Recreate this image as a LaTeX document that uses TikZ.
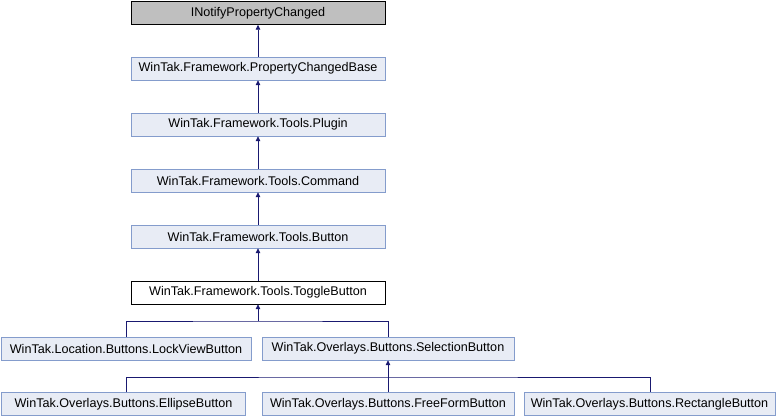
\documentclass[tikz,border=0pt]{standalone}
\usepackage{fontspec}
\setmainfont{Liberation Sans}
\usepackage{xcolor}
\usetikzlibrary{arrows.meta,positioning,calc}

\definecolor{nodefill}{HTML}{E8ECF5}
\definecolor{nodeedge}{HTML}{849CCC}
\definecolor{edgeblue}{HTML}{191970}

\begin{document}
\begin{tikzpicture}[x=1pt, y=-1pt,
  box/.style={draw=nodeedge, fill=nodefill, minimum height=23pt, inner sep=2pt, font=\fontsize{12.6}{14}\selectfont},
  wide/.style={box, minimum width=254pt},
  arr/.style={draw=edgeblue, line width=0.8pt, -{Triangle[length=5pt,width=4.5pt]}},
  lne/.style={draw=edgeblue, line width=0.8pt}
]
  \useasboundingbox (0,0) rectangle (776,416);
  % inheritance chain
  \node[wide, draw=black, fill=black!25] (inpc) at (258,13) {INotifyPropertyChanged};
  \node[wide] (pcb) at (258,68.5) {WinTak.Framework.PropertyChangedBase};
  \node[wide] (plugin) at (258,124.5) {WinTak.Framework.Tools.Plugin};
  \node[wide] (cmd) at (258,180.5) {WinTak.Framework.Tools.Command};
  \node[wide] (btn) at (258,236.5) {WinTak.Framework.Tools.Button};
  \node[wide, draw=black, fill=white] (toggle) at (258,292.5) {WinTak.Framework.Tools.ToggleButton};
  % subclasses
  \node[box, minimum width=250pt] (lock) at (126,348.5) {WinTak.Location.Buttons.LockViewButton};
  \node[box, minimum width=252pt] (sel) at (388,348.5) {WinTak.Overlays.Buttons.SelectionButton};
  \node[box, minimum width=244pt] (ellipse) at (123.5,404) {WinTak.Overlays.Buttons.EllipseButton};
  \node[box, minimum width=252pt] (free) at (388,404) {WinTak.Overlays.Buttons.FreeFormButton};
  \node[box, minimum width=251pt] (rect) at (649.5,404) {WinTak.Overlays.Buttons.RectangleButton};

  \draw[arr] (pcb) -- (inpc);
  \draw[arr] (plugin) -- (pcb);
  \draw[arr] (cmd) -- (plugin);
  \draw[arr] (btn) -- (cmd);
  \draw[arr] (toggle) -- (btn);

  \coordinate (j1) at (258,321);
  \draw[lne] (lock.north) |- (j1) -| (sel.north);
  \draw[arr] (j1) -- (toggle);

  \coordinate (j2) at (388,377);
  \draw[lne] ($(ellipse.north)+(2.5,0)$) |- (j2) -| ($(rect.north)+(0.5,0)$);
  \draw[arr] (free) -- (sel);
\end{tikzpicture}
\end{document}
